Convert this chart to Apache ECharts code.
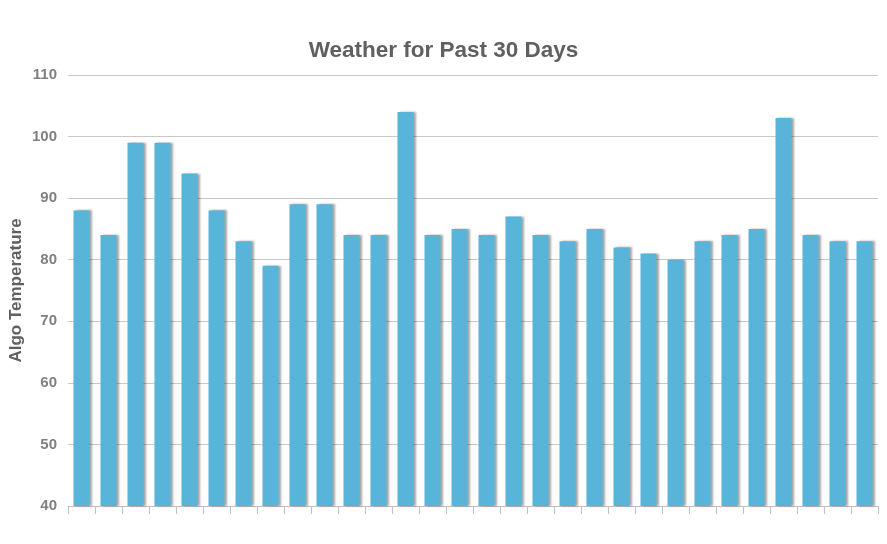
<!DOCTYPE html>
<html>
<head>
<meta charset="utf-8">
<script src="https://cdn.jsdelivr.net/npm/echarts@6/dist/echarts.min.js"></script>
<style>html,body{margin:0;padding:0;background:#fff;}#c{width:887px;height:544px;}</style>
</head>
<body>
<div id="c"></div>
<script>
var days = ['1','2','3','4','5','6','7','8','9','10','11','12','13','14','15','16','17','18','19','20','21','22','23','24','25','26','27','28','29','30'];
var temps = [88,84,99,99,94,88,83,79,89,89,84,84,104,84,85,84,87,84,83,85,82,81,80,83,84,85,103,84,83,83];
var yTicks = {min:40, max:110, interval:10};

var chart = echarts.init(document.getElementById('c'));
chart.setOption({
  animation:false,
  title:{text:'Weather for Past 30 Days', left:'center', top:34,
    textStyle:{fontFamily:'Liberation Sans, Arial, sans-serif', fontSize:22.5, fontWeight:'bold', color:'#606060'}},
  grid:{left:68, right:9, top:75, bottom:38, outerBoundsMode:'none', containLabel:false},
  xAxis:{type:'category', data:days,
    axisLine:{lineStyle:{color:'#c0c0c0'}},
    axisTick:{show:true, length:8, lineStyle:{color:'#c0c0c0'}},
    axisLabel:{show:false}},
  yAxis:{type:'value', min:yTicks.min, max:yTicks.max, interval:yTicks.interval,
    name:'Algo Temperature', nameLocation:'middle', nameGap:43, nameRotate:90, nameMoveOverlap:false,
    nameTextStyle:{fontFamily:'Liberation Sans, Arial, sans-serif', fontSize:17, fontWeight:'bold', color:'#606060'},
    axisLine:{show:false}, axisTick:{show:false},
    axisLabel:{fontFamily:'Liberation Sans, Arial, sans-serif', fontSize:15, fontWeight:'bold', color:'#808080', margin:11},
    splitLine:{lineStyle:{color:'#c8c8c8'}}},
  series:[{type:'bar', data:temps, barWidth:16,
    itemStyle:{color:'#58b4d9', shadowColor:'rgba(0,0,0,0.35)', shadowOffsetX:2, shadowOffsetY:0, shadowBlur:2}}]
});
</script>
</body>
</html>
